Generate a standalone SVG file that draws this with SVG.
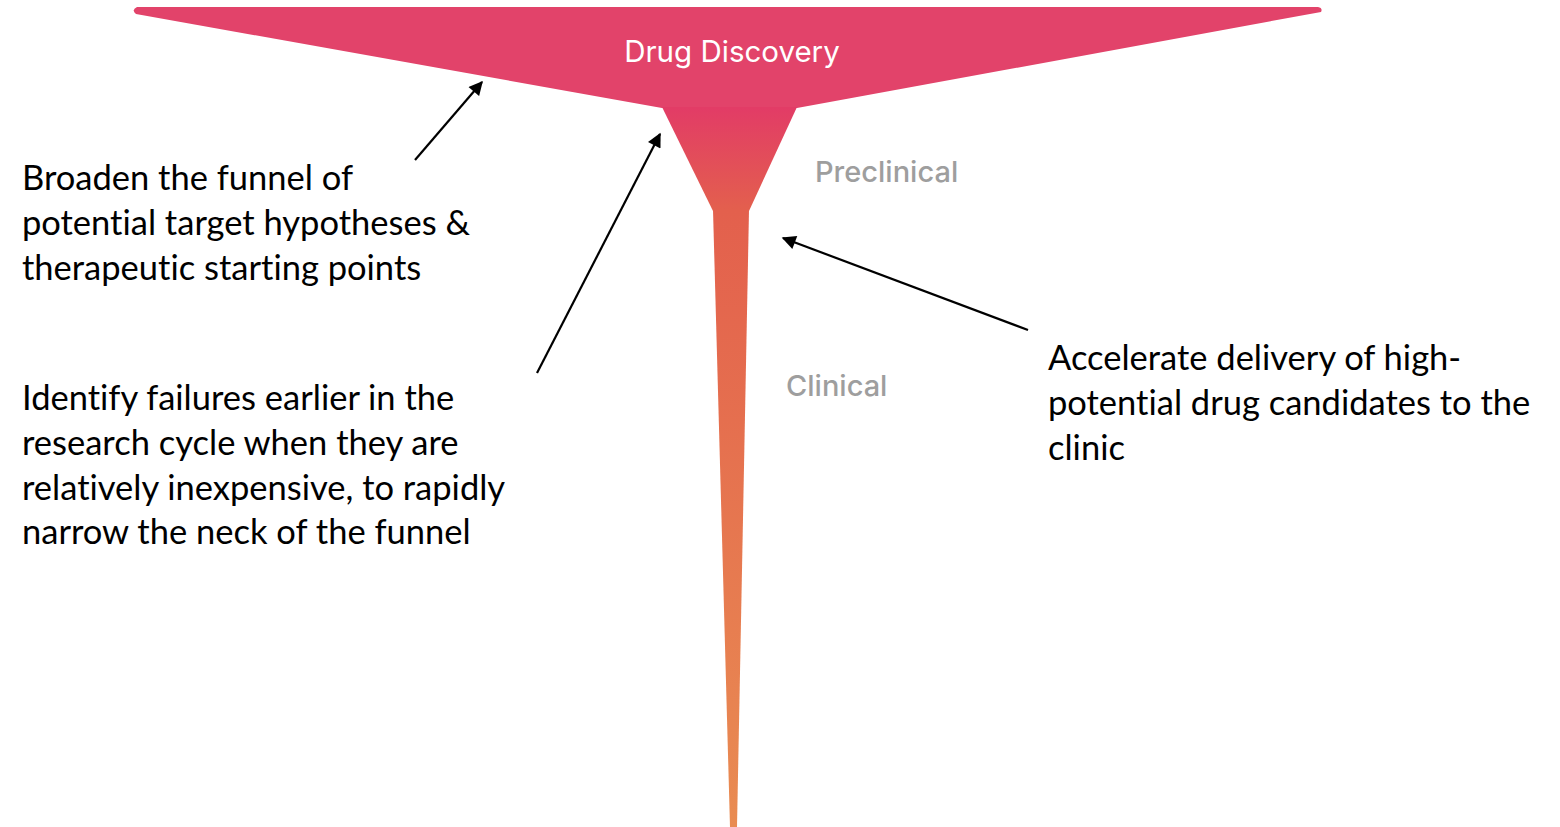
<svg xmlns="http://www.w3.org/2000/svg" width="1560" height="827" viewBox="0 0 1560 827">
<style>
.note{font-family:Lato,"Open Sans",sans-serif;font-size:34.5px;fill:#000;font-variant-ligatures:none}
.stage{font-family:Inter,"Liberation Sans",sans-serif;font-size:29px;font-weight:500;fill:#9e9e9e}
.title{font-family:Inter,"Liberation Sans",sans-serif;font-size:29.5px;font-weight:400;fill:#fff}
.arrow{stroke:#000;stroke-width:2.2;fill:none;marker-end:url(#ah)}
</style>
<defs>
<marker id="ah" viewBox="0 0 10 10" refX="9" refY="5" markerWidth="17" markerHeight="14" markerUnits="userSpaceOnUse" orient="auto">
<path d="M0,0 L10,5 L0,10 z" fill="#000"/>
</marker>
<linearGradient id="neck" x1="0" y1="108" x2="0" y2="212" gradientUnits="userSpaceOnUse">
<stop offset="0" stop-color="#e23c66"/>
<stop offset="1" stop-color="#e3604d"/>
</linearGradient>
<linearGradient id="stem" x1="0" y1="210" x2="0" y2="827" gradientUnits="userSpaceOnUse">
<stop offset="0" stop-color="#e3604d"/>
<stop offset="1" stop-color="#e98c52"/>
</linearGradient>
</defs>
<g id="funnel">
<path d="M137,7 L1318,7 Q1323,8 1321,12 L797,108 L662,108 L136,14 Q131,10 137,7 Z" fill="#e2436a"/>
<path d="M662,107 L797,107 L749,211 L713,211 Z" fill="url(#neck)"/>
<path d="M713,210 L749,210 L737,827 L730,827 Z" fill="url(#stem)"/>
<text class="title" x="732" y="62" text-anchor="middle">Drug Discovery</text>
</g>
<g id="preclinical"><text class="stage" x="815" y="182">Preclinical</text></g>
<g id="clinical"><text class="stage" x="786" y="396">Clinical</text></g>
<g id="note-broaden">
<text class="note" x="22" y="190">Broaden the funnel of</text>
<text class="note" x="22" y="235">potential target hypotheses &amp;</text>
<text class="note" x="22" y="280">therapeutic starting points</text>
</g>
<g id="note-identify">
<text class="note" x="22" y="410">Identify failures earlier in the</text>
<text class="note" x="22" y="455">research cycle when they are</text>
<text class="note" x="22" y="500">relatively inexpensive, to rapidly</text>
<text class="note" x="22" y="544">narrow the neck of the funnel</text>
</g>
<g id="note-accelerate">
<text class="note" x="1048" y="370">Accelerate delivery of high-</text>
<text class="note" x="1048" y="415">potential drug candidates to the</text>
<text class="note" x="1048" y="460">clinic</text>
</g>
<g id="connectors">
<line class="arrow" x1="415" y1="160" x2="482" y2="82"/>
<line class="arrow" x1="537" y1="373" x2="660" y2="134"/>
<line class="arrow" x1="1028" y1="330" x2="783" y2="238"/>
</g>
</svg>
